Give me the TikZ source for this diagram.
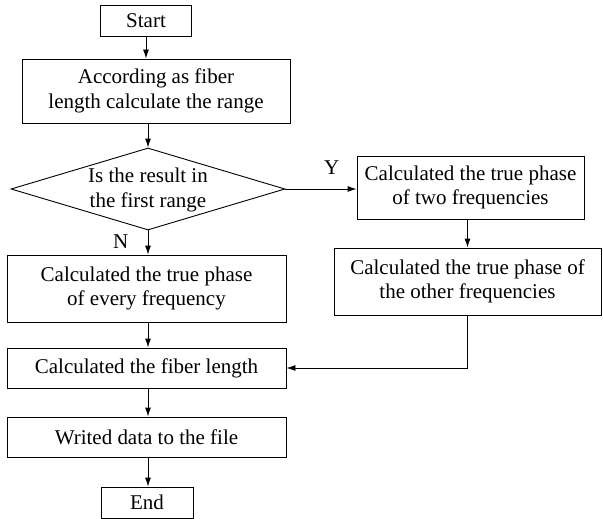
\documentclass[tikz,border=0pt]{standalone}
\usepackage{fontspec}
\setmainfont{Liberation Serif}
\usetikzlibrary{shapes.geometric,arrows.meta}

\begin{document}
\begin{tikzpicture}[x=1pt, y=-1pt, line width=0.9pt,
    box/.style={rectangle, draw, inner sep=0pt, align=center},
    decision/.style={diamond, draw, inner sep=0pt, minimum width=274pt, minimum height=82pt},
    arr/.style={-{Latex[length=9pt,width=6pt]}},
    font=\fontsize{21}{24.5}\selectfont]
    \useasboundingbox (0,0) rectangle (603,519);
    % Nodes
    \node (start) [box, minimum width=91pt, minimum height=31pt] at (146,20.5) {Start};
    \node (range) [box, minimum width=268pt, minimum height=64pt] at (156,91) {According as fiber\\length calculate the range};
    \node (test) [decision] at (148,189) {};
    \node (testtext) [align=center] at (148,190) {Is the result in\\the first range};
    \node (two) [box, minimum width=227pt, minimum height=63pt] at (470.5,187.5) {Calculated the true phase\\of two frequencies};
    \node (other) [box, minimum width=267pt, minimum height=67pt] at (467.5,281.5) {Calculated the true phase of\\the other frequencies};
    \node (every) [box, minimum width=279pt, minimum height=67pt] at (146.5,288.5) {Calculated the true phase\\of every frequency};
    \node (length) [box, minimum width=279pt, minimum height=40pt] at (146.5,368) {Calculated the fiber length};
    \node (write) [box, minimum width=279pt, minimum height=40pt] at (146.5,437) {Writed data to the file};
    \node (end) [box, minimum width=92pt, minimum height=31pt] at (147,502.5) {End};
    % Arrows
    \draw[arr] (start.south) -- (start.south |- range.north);
    \draw[arr] (range.south -| test.north) -- (test.north);
    \draw[arr] (test.east) -- (test.east -| two.west) node (yes) [above, pos=0.65, yshift=11pt] {Y};
    \draw[arr] (test.south) -- (test.south |- every.north) node (no) [left, pos=0.5, xshift=-16pt, yshift=1pt] {N};
    \draw[arr] (two.south -| other.north) -- (other.north);
    \draw[arr] (other.south) |- (length.east);
    \draw[arr] (every.south -| test.south) -- (test.south |- length.north);
    \draw[arr] (length.south -| test.south) -- (test.south |- write.north);
    \draw[arr] (write.south -| test.south) -- (test.south |- end.north);
\end{tikzpicture}
\end{document}
